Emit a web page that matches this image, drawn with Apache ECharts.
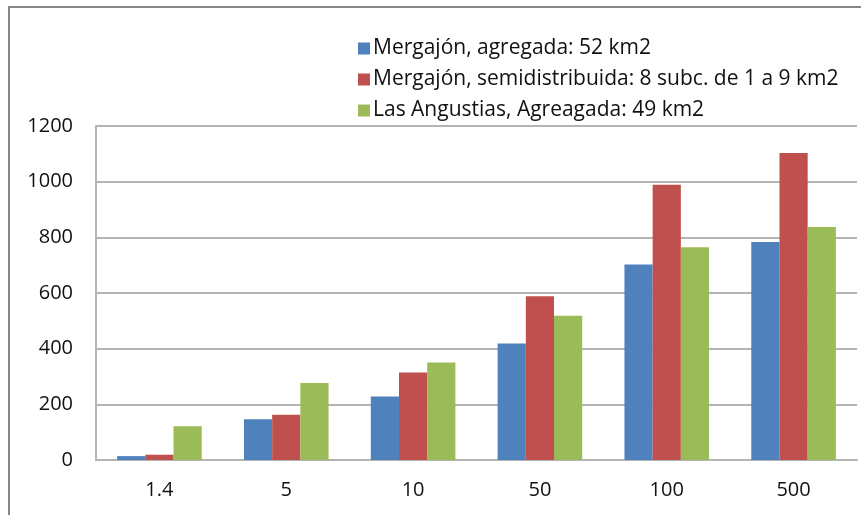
<!DOCTYPE html>
<html>
<head>
<meta charset="utf-8">
<script src="https://cdn.jsdelivr.net/npm/echarts@6/dist/echarts.min.js"></script>
<style>
  html, body { margin: 0; padding: 0; background: #fff; }
  #frame { position: absolute; left: 8px; top: 6px; width: 870px; height: 520px;
           border-left: 2px solid #868686; border-top: 2px solid #868686; }
  #chart { position: absolute; left: 0; top: 0; width: 861px; height: 515px; }
</style>
</head>
<body>
<div id="frame"></div>
<div id="chart"></div>
<script>
// Return periods (categories) and peak flows per model
const categories = ['1.4', '5', '10', '50', '100', '500'];
const seriesNames = [
  'Mergajón, agregada: 52 km2',
  'Mergajón, semidistribuida: 8 subc. de 1 a 9 km2',
  'Las Angustias, Agreagada: 49 km2'
];
const mergajonAgregada = [14, 146, 228, 419, 702, 783];
const mergajonSemidist = [19, 163, 314, 588, 989, 1103];
const angustiasAgregada = [121, 277, 350, 518, 764, 837];
const yTicks = [0, 200, 400, 600, 800, 1000, 1200];

const colors = ['#4f81bd', '#c0504d', '#9bbb59'];
const font = '"Open Sans", "Liberation Sans", sans-serif';
const axisGray = '#b4b4b4';

const chart = echarts.init(document.getElementById('chart'));
chart.setOption({
  animation: false,
  color: colors,
  textStyle: { fontFamily: font },
  legend: {
    orient: 'vertical',
    left: 353,
    top: 33,
    itemWidth: 12,
    itemHeight: 12,
    itemGap: 10,
    icon: 'rect',
    textStyle: { fontFamily: font, fontSize: 21, color: '#111', lineHeight: 20, padding: [0, 0, 0, -2] },
    data: seriesNames
  },
  grid: { left: 96, right: 4, top: 126, bottom: 55 },
  xAxis: {
    type: 'category',
    data: categories,
    axisLine: { lineStyle: { color: axisGray, width: 2 } },
    axisTick: { show: false },
    axisLabel: { fontFamily: font, fontSize: 20, color: '#111', margin: 20 }
  },
  yAxis: {
    type: 'value',
    min: yTicks[0],
    max: yTicks[yTicks.length - 1],
    interval: 200,
    axisLine: { show: true, lineStyle: { color: axisGray, width: 2 } },
    axisTick: { show: false },
    axisLabel: { fontFamily: font, fontSize: 20, color: '#111', margin: 23, formatter: v => String(v) },
    splitLine: { lineStyle: { color: axisGray, width: 2 } }
  },
  series: [
    { name: seriesNames[0], type: 'bar', data: mergajonAgregada, barGap: '0%', barCategoryGap: '33.3%' },
    { name: seriesNames[1], type: 'bar', data: mergajonSemidist, barGap: '0%', barCategoryGap: '33.3%' },
    { name: seriesNames[2], type: 'bar', data: angustiasAgregada, barGap: '0%', barCategoryGap: '33.3%' }
  ]
});
</script>
</body>
</html>
